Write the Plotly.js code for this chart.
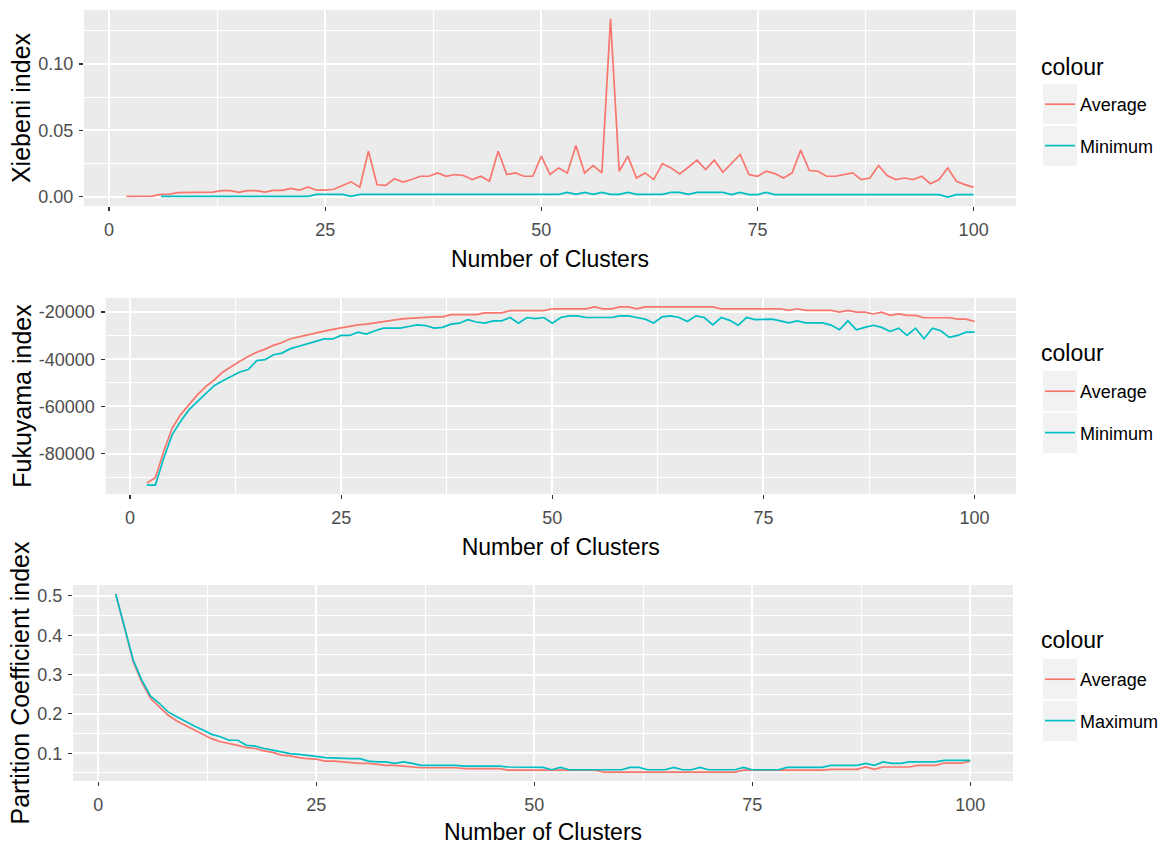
<!DOCTYPE html>
<html>
<head>
<meta charset="utf-8">
<script src="https://cdn.plot.ly/plotly-3.0.1.min.js"></script>
<style>
  html, body { margin: 0; padding: 0; background: #ffffff; }
  #chart { width: 1166px; height: 845px; }
</style>
</head>
<body>
<div id="chart"></div>
<script>
// Number of clusters tried (2..100)
const clusters = [
  2, 3, 4, 5, 6, 7, 8, 9, 10, 11,
  12, 13, 14, 15, 16, 17, 18, 19, 20, 21,
  22, 23, 24, 25, 26, 27, 28, 29, 30, 31,
  32, 33, 34, 35, 36, 37, 38, 39, 40, 41,
  42, 43, 44, 45, 46, 47, 48, 49, 50, 51,
  52, 53, 54, 55, 56, 57, 58, 59, 60, 61,
  62, 63, 64, 65, 66, 67, 68, 69, 70, 71,
  72, 73, 74, 75, 76, 77, 78, 79, 80, 81,
  82, 83, 84, 85, 86, 87, 88, 89, 90, 91,
  92, 93, 94, 95, 96, 97, 98, 99, 100
];

// Xie-Beni index
const xieAverage = [
  0.0003, 0.0003, 0.0003, 0.0004, 0.0018, 0.0020, 0.0030, 0.0031, 0.0032, 0.0033,
  0.0034, 0.0046, 0.0046, 0.0033, 0.0046, 0.0046, 0.0034, 0.0047, 0.0048, 0.0062,
  0.0049, 0.0073, 0.0049, 0.0049, 0.0056, 0.0085, 0.0112, 0.0072, 0.0343, 0.0090,
  0.0085, 0.0135, 0.0110, 0.0130, 0.0154, 0.0154, 0.0179, 0.0154, 0.0167, 0.0160,
  0.0129, 0.0154, 0.0116, 0.0343, 0.0167, 0.0179, 0.0154, 0.0154, 0.0306, 0.0167,
  0.0217, 0.0179, 0.0386, 0.0179, 0.0235, 0.0179, 0.1340, 0.0192, 0.0306, 0.0141,
  0.0179, 0.0129, 0.0250, 0.0217, 0.0171, 0.0222, 0.0275, 0.0205, 0.0275, 0.0184,
  0.0250, 0.0318, 0.0167, 0.0154, 0.0192, 0.0174, 0.0141, 0.0179, 0.0351, 0.0197,
  0.0192, 0.0154, 0.0154, 0.0167, 0.0179, 0.0129, 0.0141, 0.0235, 0.0160, 0.0129,
  0.0141, 0.0129, 0.0154, 0.0098, 0.0129, 0.0217, 0.0116, 0.0091, 0.0070
];
const xieMinimum = [
  null, null, null, null, 0.0003, 0.0003, 0.0003, 0.0003, 0.0003, 0.0003,
  0.0003, 0.0003, 0.0003, 0.0003, 0.0003, 0.0003, 0.0003, 0.0003, 0.0003, 0.0003,
  0.0003, 0.0003, 0.0018, 0.0018, 0.0018, 0.0018, 0.0002, 0.0018, 0.0018, 0.0018,
  0.0018, 0.0018, 0.0018, 0.0018, 0.0018, 0.0018, 0.0018, 0.0018, 0.0018, 0.0018,
  0.0018, 0.0018, 0.0018, 0.0018, 0.0018, 0.0018, 0.0018, 0.0018, 0.0018, 0.0018,
  0.0018, 0.0032, 0.0018, 0.0032, 0.0018, 0.0032, 0.0018, 0.0018, 0.0032, 0.0018,
  0.0018, 0.0018, 0.0018, 0.0032, 0.0032, 0.0018, 0.0032, 0.0032, 0.0032, 0.0032,
  0.0016, 0.0032, 0.0016, 0.0016, 0.0032, 0.0016, 0.0016, 0.0016, 0.0016, 0.0016,
  0.0016, 0.0016, 0.0016, 0.0016, 0.0016, 0.0016, 0.0016, 0.0016, 0.0016, 0.0016,
  0.0016, 0.0016, 0.0016, 0.0016, 0.0016, -0.0003, 0.0016, 0.0016, 0.0016
];

// Fukuyama-Sugeno index
const fukAverage = [
  -92500, -90300, -79000, -69200, -63500, -59300, -55000, -51500, -48700, -45400,
  -43000, -40900, -38800, -37000, -35700, -34100, -32900, -31300, -30500, -29600,
  -28800, -28100, -27300, -26600, -26100, -25400, -25100, -24500, -24000, -23400,
  -23000, -22700, -22400, -22400, -22000, -22000, -21100, -21100, -21100, -21100,
  -20300, -20300, -20300, -19400, -19400, -19400, -19400, -19400, -18600, -18600,
  -18600, -18600, -18600, -17800, -18600, -18600, -17800, -17800, -18600, -17800,
  -17800, -17800, -17800, -17800, -17800, -17800, -17800, -17800, -18600, -18600,
  -18600, -18600, -18600, -18600, -18600, -18600, -19300, -18600, -19300, -19300,
  -19300, -19300, -20000, -19300, -20000, -20000, -20800, -20000, -21400, -20800,
  -21400, -21400, -22400, -22400, -22400, -22400, -23000, -23000, -24000
];
const fukMinimum = [
  -93400, -93400, -81900, -72000, -66300, -61400, -57900, -54700, -51100, -49100,
  -47300, -45400, -44400, -40600, -40200, -38100, -37400, -35500, -34500, -33600,
  -32400, -31400, -31400, -29900, -29900, -28500, -29300, -27900, -26800, -26800,
  -26800, -26100, -25400, -25700, -26800, -26500, -25100, -24700, -23200, -24200,
  -24700, -23700, -23700, -22300, -24700, -22300, -22800, -22300, -24700, -22300,
  -21600, -21600, -22300, -22300, -22300, -22300, -21600, -21600, -22300, -23000,
  -24600, -22000, -21600, -22300, -24000, -21600, -22300, -25400, -22300, -23500,
  -25600, -22300, -23200, -23200, -23000, -23700, -24600, -23700, -24600, -24600,
  -24600, -25500, -27500, -23700, -27500, -26500, -25600, -26500, -28200, -26800,
  -29900, -26800, -31300, -26800, -27900, -30700, -29900, -28500, -28500
];

// Partition coefficient index
const pcAverage = [
  0.505, 0.420, 0.333, 0.280, 0.239, 0.218, 0.197, 0.182, 0.171, 0.159,
  0.148, 0.137, 0.129, 0.125, 0.120, 0.114, 0.112, 0.106, 0.102, 0.095,
  0.093, 0.089, 0.086, 0.085, 0.080, 0.080, 0.078, 0.075, 0.074, 0.074,
  0.072, 0.069, 0.069, 0.067, 0.065, 0.063, 0.063, 0.063, 0.063, 0.063,
  0.061, 0.061, 0.061, 0.061, 0.061, 0.057, 0.057, 0.057, 0.057, 0.057,
  0.057, 0.057, 0.057, 0.057, 0.057, 0.057, 0.052, 0.052, 0.052, 0.052,
  0.052, 0.052, 0.052, 0.052, 0.052, 0.052, 0.052, 0.052, 0.052, 0.052,
  0.052, 0.052, 0.057, 0.057, 0.057, 0.057, 0.057, 0.057, 0.057, 0.057,
  0.057, 0.057, 0.059, 0.059, 0.059, 0.059, 0.065, 0.059, 0.065, 0.065,
  0.065, 0.065, 0.069, 0.069, 0.069, 0.075, 0.075, 0.075, 0.080
];
const pcMaximum = [
  0.505, 0.424, 0.337, 0.285, 0.245, 0.227, 0.205, 0.193, 0.180, 0.169,
  0.159, 0.148, 0.142, 0.133, 0.133, 0.120, 0.118, 0.112, 0.108, 0.103,
  0.099, 0.097, 0.095, 0.092, 0.089, 0.088, 0.086, 0.086, 0.086, 0.080,
  0.078, 0.078, 0.074, 0.078, 0.074, 0.069, 0.069, 0.069, 0.069, 0.069,
  0.067, 0.067, 0.067, 0.067, 0.067, 0.065, 0.065, 0.065, 0.065, 0.064,
  0.058, 0.064, 0.058, 0.058, 0.058, 0.058, 0.058, 0.058, 0.058, 0.064,
  0.064, 0.058, 0.058, 0.058, 0.064, 0.058, 0.058, 0.064, 0.058, 0.058,
  0.058, 0.058, 0.064, 0.058, 0.058, 0.058, 0.058, 0.064, 0.064, 0.064,
  0.064, 0.064, 0.069, 0.069, 0.069, 0.069, 0.074, 0.069, 0.078, 0.074,
  0.074, 0.078, 0.078, 0.078, 0.078, 0.082, 0.082, 0.082, 0.082
];

// Tick labels
const xTickVals = [0, 25, 50, 75, 100];
const xTickText = ['0', '25', '50', '75', '100'];
const xieTickVals = [0, 0.05, 0.10];
const xieTickText = ['0.00', '0.05', '0.10'];
const fukTickVals = [-80000, -60000, -40000, -20000];
const fukTickText = ['-80000', '-60000', '-40000', '-20000'];
const pcTickVals = [0.1, 0.2, 0.3, 0.4, 0.5];
const pcTickText = ['0.1', '0.2', '0.3', '0.4', '0.5'];

// ---- styling ----
const RED = '#F8766D';
const TEAL = '#00BFC4';
const FONT = 'Liberation Sans, Arial, Helvetica, sans-serif';
const W = 1166, H = 845;

// ggplot-like 5% expansion of the data range
function expand(values) {
  const v = values.filter(d => d !== null);
  const lo = Math.min(...v), hi = Math.max(...v);
  const pad = (hi - lo) * 0.05;
  return [lo - pad, hi + pad];
}

const px = (a, b) => [a / W, b / W];
const py = (top, bottom) => [1 - bottom / H, 1 - top / H];

function xAxis(domain, anchor) {
  return {
    domain: domain, anchor: anchor,
    range: expand(clusters),
    tickmode: 'array', tickvals: xTickVals, ticktext: xTickText,
    ticks: 'outside', ticklen: 4, tickwidth: 1.2, tickcolor: '#333333',
    ticklabelstandoff: 3,
    tickfont: { family: FONT, size: 18, color: '#4D4D4D' },
    showgrid: true, gridcolor: '#FFFFFF', gridwidth: 2,
    minor: { tickmode: 'linear', tick0: 0, dtick: 12.5, showgrid: true,
             gridcolor: '#FFFFFF', gridwidth: 1, ticks: '' },
    zeroline: false, showline: false,
    title: { text: 'Number of Clusters', standoff: 12,
             font: { family: FONT, size: 23, color: '#000000' } }
  };
}

function yAxis(domain, anchor, range, vals, text, minorStep, title) {
  return {
    domain: domain, anchor: anchor, range: range,
    tickmode: 'array', tickvals: vals, ticktext: text,
    ticks: 'outside', ticklen: 4, tickwidth: 1.2, tickcolor: '#333333',
    ticklabelstandoff: 2,
    tickfont: { family: FONT, size: 18, color: '#4D4D4D' },
    showgrid: true, gridcolor: '#FFFFFF', gridwidth: 2,
    minor: { tickmode: 'linear', tick0: 0, dtick: minorStep, showgrid: true,
             gridcolor: '#FFFFFF', gridwidth: 1, ticks: '' },
    zeroline: false, showline: false,
    title: { text: title, standoff: 0,
             font: { family: FONT, size: 25, color: '#000000' } }
  };
}

function line(y, name, color, xa, ya, legend) {
  return {
    type: 'scatter', mode: 'lines', x: clusters, y: y, name: name,
    xaxis: xa, yaxis: ya, legend: legend, legendgroup: legend + name,
    line: { color: color, width: 1.7 }, connectgaps: false,
    hoverinfo: 'x+y+name'
  };
}

const traces = [
  line(xieAverage, 'Average', RED, 'x', 'y', 'legend'),
  line(xieMinimum, 'Minimum', TEAL, 'x', 'y', 'legend'),
  line(fukAverage, 'Average', RED, 'x2', 'y2', 'legend2'),
  line(fukMinimum, 'Minimum', TEAL, 'x2', 'y2', 'legend2'),
  line(pcAverage, 'Average', RED, 'x3', 'y3', 'legend3'),
  line(pcMaximum, 'Maximum', TEAL, 'x3', 'y3', 'legend3')
];

function legendBox(topPx) {
  return {
    font: { family: FONT, size: 18, color: '#000000' },
    x: 1040 / W, xanchor: 'left', xref: 'paper',
    y: 1 - topPx / H, yanchor: 'top', yref: 'paper',
    bgcolor: 'rgba(0,0,0,0)', borderwidth: 0,
    traceorder: 'grouped', tracegroupgap: 15, itemwidth: 30
  };
}

// legend headings
function heading(centerPx) {
  return {
    text: 'colour', xref: 'paper', yref: 'paper',
    x: 1039 / W, xanchor: 'left', y: 1 - centerPx / H, yanchor: 'middle',
    showarrow: false, font: { family: FONT, size: 23, color: '#000000' }
  };
}

// grey key backgrounds behind legend symbols
function keyShapes(centers) {
  return centers.map(c => ({
    type: 'rect', xref: 'paper', yref: 'paper', layer: 'below',
    x0: 1043 / W, x1: 1077 / W, y0: 1 - (c + 20) / H, y1: 1 - (c - 20) / H,
    fillcolor: '#F2F2F2', line: { width: 0 }
  }));
}

const layout = {
  width: W, height: H,
  margin: { l: 0, r: 0, t: 0, b: 0, pad: 0 },
  paper_bgcolor: '#FFFFFF', plot_bgcolor: '#EBEBEB',
  font: { family: FONT },
  showlegend: true,
  xaxis: xAxis(px(84, 1016), 'y'),
  yaxis: yAxis(py(10, 206), 'x', expand(xieAverage.concat(xieMinimum)),
               xieTickVals, xieTickText, 0.025, 'Xiebeni index'),
  xaxis2: xAxis(px(105.5, 1016), 'y2'),
  yaxis2: yAxis(py(298, 494), 'x2', expand(fukAverage.concat(fukMinimum)),
                fukTickVals, fukTickText, 10000, 'Fukuyama index'),
  xaxis3: xAxis(px(73, 1013), 'y3'),
  yaxis3: yAxis(py(585, 781), 'x3', expand(pcAverage.concat(pcMaximum)),
                pcTickVals, pcTickText, 0.05, 'Partition Coefficient index'),
  legend: legendBox(86),
  legend2: legendBox(373),
  legend3: legendBox(661),
  annotations: [heading(67), heading(353), heading(640)],
  shapes: [].concat(keyShapes([104, 146]), keyShapes([391, 433]), keyShapes([679, 721]))
};

Plotly.newPlot('chart', traces, layout, { displayModeBar: false, staticPlot: true });
</script>
</body>
</html>
